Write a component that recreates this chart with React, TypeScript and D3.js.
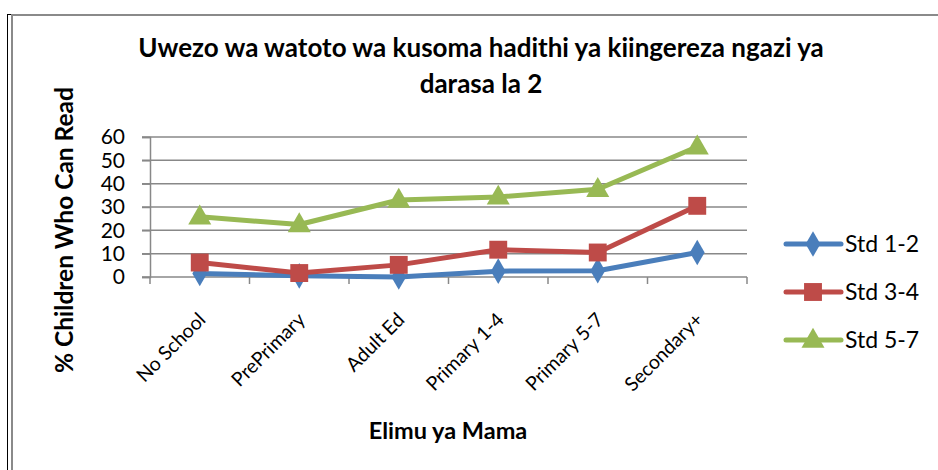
import React, { useEffect, useRef } from 'react'
import * as d3 from 'd3'

const categories = ['No School', 'PrePrimary', 'Adult Ed', 'Primary 1-4', 'Primary 5-7', 'Secondary+']
const std12 = [1.5, 0.5, 0, 2.5, 2.7, 10.5]
const std34 = [6.2, 1.7, 5.2, 11.7, 10.5, 30.5]
const std57 = [25.8, 22.5, 33, 34.3, 37.6, 55.8]
const seriesNames = ['Std 1-2', 'Std 3-4', 'Std 5-7']
const yTicks = [0, 10, 20, 30, 40, 50, 60]

const colors = ['#4a7ebb', '#be4b48', '#98b954']
const font = 'Lato, Carlito, Calibri, sans-serif'

const App = () => {
    const ref = useRef(null)

    useEffect(() => {
        const svg = d3.select(ref.current)
        svg.selectAll('*').remove()

        const width = 938, height = 470
        const x = d3.scaleBand().domain(categories).range([150, 747])
        const y = d3.scaleLinear().domain([0, 60]).range([277, 137])
        const cx = (d) => x(d) + x.bandwidth() / 2

        svg.append('rect').attr('width', width).attr('height', height).attr('fill', '#fff')

        // frame
        svg.append('line').attr('x1', 7.5).attr('x2', 7.5).attr('y1', 14).attr('y2', height)
            .attr('stroke', '#000').attr('stroke-width', 1)
        svg.append('line').attr('x1', 7).attr('x2', 12).attr('y1', 14.5).attr('y2', 14.5)
            .attr('stroke', '#000').attr('stroke-width', 1)
        svg.append('line').attr('x1', 12).attr('x2', 12).attr('y1', 14).attr('y2', height)
            .attr('stroke', '#8a8a8a').attr('stroke-width', 2)
        svg.append('line').attr('x1', 11).attr('x2', width).attr('y1', 15).attr('y2', 15)
            .attr('stroke', '#8a8a8a').attr('stroke-width', 2)

        // title
        const title = svg.append('text')
            .attr('text-anchor', 'middle')
            .attr('font-family', font)
            .attr('font-weight', 'bold')
            .attr('font-size', 26)
            .attr('fill', '#000')
        title.append('tspan').attr('x', 481).attr('y', 57).text('Uwezo wa watoto wa kusoma hadithi ya kiingereza ngazi ya')
        title.append('tspan').attr('x', 481).attr('y', 93).text('darasa la 2')

        // gridlines
        svg.append('g')
            .selectAll('line')
            .data(yTicks.slice(1))
            .enter()
            .append('line')
            .attr('x1', 142).attr('x2', 747)
            .attr('y1', d => y(d)).attr('y2', d => y(d))
            .attr('stroke', '#888').attr('stroke-width', 1.5)

        // y axis
        const yAxis = svg.append('g')
            .attr('transform', 'translate(150,0)')
            .call(d3.axisLeft(y).tickValues(yTicks).tickSize(8).tickPadding(17))
        yAxis.select('.domain').attr('stroke', '#888').attr('stroke-width', 1.5)
        yAxis.selectAll('.tick line').attr('stroke', '#888').attr('stroke-width', 1.5)
        yAxis.selectAll('.tick text')
            .attr('font-family', font)
            .attr('font-size', 21)
            .attr('fill', '#000')

        // x axis
        const xAxis = svg.append('g')
            .attr('transform', 'translate(0,' + y(0) + ')')
            .call(d3.axisBottom(x).tickSize(0).tickFormat(() => ''))
        xAxis.select('.domain').attr('stroke', '#888').attr('stroke-width', 1.5).attr('d', 'M142,0H747')
        svg.append('g')
            .selectAll('line')
            .data(categories.map(c => x(c)).concat([747]))
            .enter()
            .append('line')
            .attr('x1', d => d).attr('x2', d => d)
            .attr('y1', y(0)).attr('y2', y(0) + 7)
            .attr('stroke', '#888').attr('stroke-width', 1.5)

        svg.append('g')
            .selectAll('text')
            .data(categories)
            .enter()
            .append('text')
            .attr('transform', d => 'translate(' + (cx(d) + 7) + ',321) rotate(-45)')
            .attr('text-anchor', 'end')
            .attr('font-family', font)
            .attr('font-size', 19.5)
            .attr('fill', '#000')
            .text(d => d)

        // axis titles
        svg.append('text')
            .attr('x', 448).attr('y', 439)
            .attr('text-anchor', 'middle')
            .attr('font-family', font)
            .attr('font-weight', 'bold')
            .attr('font-size', 23.5)
            .text('Elimu ya Mama')

        svg.append('text')
            .attr('transform', 'translate(73,230) rotate(-90)')
            .attr('text-anchor', 'middle')
            .attr('font-family', font)
            .attr('font-weight', 'bold')
            .attr('font-size', 24.5)
            .text('% Children Who Can Read')

        const allSeries = [std12, std34, std57]
        const symbols = [d3.symbolDiamond, d3.symbolSquare, d3.symbolTriangle]
        const symSizes = [190, 320, 230]

        const line = d3.line()
            .x((d, i) => cx(categories[i]))
            .y(d => y(d))

        allSeries.forEach((values, s) => {
            svg.append('path')
                .datum(values)
                .attr('d', line)
                .attr('fill', 'none')
                .attr('stroke', colors[s])
                .attr('stroke-width', 5)
                .attr('stroke-linejoin', 'round')

            svg.append('g')
                .selectAll('path')
                .data(values)
                .enter()
                .append('path')
                .attr('d', d3.symbol().type(symbols[s]).size(symSizes[s]))
                .attr('transform', (d, i) => 'translate(' + cx(categories[i]) + ',' + (y(d) + (s === 2 ? 1 : 0)) + ')')
                .attr('fill', colors[s])
        })

        // legend
        const legend = svg.append('g')
            .selectAll('g')
            .data(seriesNames)
            .enter()
            .append('g')
            .attr('transform', (d, i) => 'translate(0,' + (244 + i * 48) + ')')

        legend.append('line')
            .attr('x1', 786).attr('x2', 841)
            .attr('stroke', (d, i) => colors[i])
            .attr('stroke-width', 5)
            .attr('stroke-linecap', 'round')

        legend.append('path')
            .attr('d', (d, i) => d3.symbol().type(symbols[i]).size(symSizes[i])())
            .attr('transform', (d, i) => 'translate(813,' + (i === 2 ? 1 : 0) + ')')
            .attr('fill', (d, i) => colors[i])

        legend.append('text')
            .attr('x', 845)
            .attr('dy', '0.35em')
            .attr('font-family', font)
            .attr('font-size', 23)
            .attr('fill', '#000')
            .text(d => d)
    })

    return (
        <svg ref={ref} width={938} height={470} style={{ position: 'absolute', left: 0, top: 0 }}></svg>
    )
}

export default App
